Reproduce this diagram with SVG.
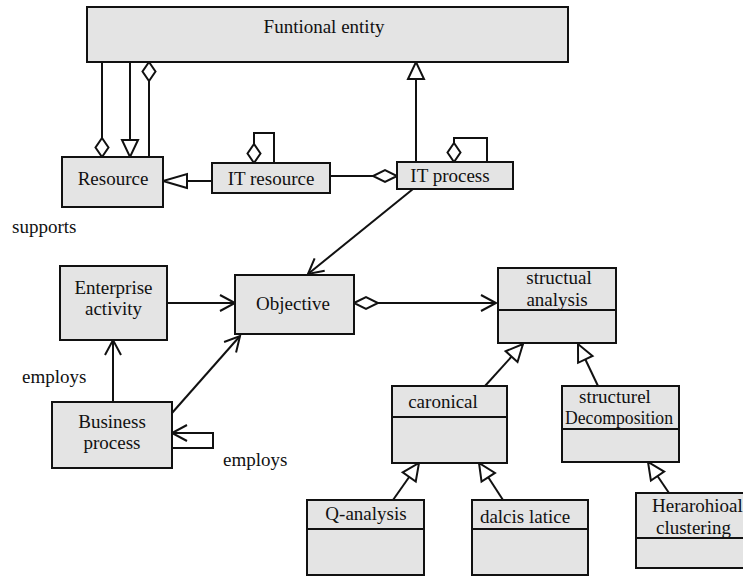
<svg xmlns="http://www.w3.org/2000/svg" width="743" height="577" viewBox="0 0 743 577">
  <style>
    .box { fill: #e4e4e4; stroke: #111; stroke-width: 2; }
    .sep { stroke: #111; stroke-width: 2; }
    .lbl { font-family: "Liberation Serif", "Times New Roman", serif; font-size: 19px; fill: #111; }
    .mid { text-anchor: middle; }
    .ln { fill: none; stroke: #111; stroke-width: 2; }
    .gen { marker-end: url(#tri); }
    .arr { marker-end: url(#arrow); }
  </style>
  <defs>
    <!-- hollow triangle: generalisation -->
    <marker id="tri" viewBox="0 0 17 16" refX="17" refY="8" markerWidth="17" markerHeight="16" markerUnits="userSpaceOnUse" orient="auto" overflow="visible">
      <path d="M0,0 L17,8 L0,16 Z" fill="#fff" stroke="#111" stroke-width="2"/>
    </marker>
    <marker id="triL" viewBox="0 0 24 14" refX="24" refY="7" markerWidth="24" markerHeight="14" markerUnits="userSpaceOnUse" orient="auto" overflow="visible">
      <path d="M0,0 L24,7 L0,14 Z" fill="#fff" stroke="#111" stroke-width="2"/>
    </marker>
    <!-- hollow diamond: aggregation (placed at line start) -->
    <marker id="dia" viewBox="0 0 19 13" refX="0" refY="6.5" markerWidth="19" markerHeight="13" markerUnits="userSpaceOnUse" orient="auto" overflow="visible">
      <path d="M0,6.5 L9.5,0 L19,6.5 L9.5,13 Z" fill="#fff" stroke="#111" stroke-width="2"/>
    </marker>
    <marker id="diaH" viewBox="0 0 24 12" refX="0" refY="6" markerWidth="24" markerHeight="12" markerUnits="userSpaceOnUse" orient="auto" overflow="visible">
      <path d="M0,6 L12,0 L24,6 L12,12 Z" fill="#fff" stroke="#111" stroke-width="2"/>
    </marker>
    <!-- open arrowhead: navigable association -->
    <marker id="arrow" viewBox="0 0 15 16" refX="15" refY="8" markerWidth="15" markerHeight="16" markerUnits="userSpaceOnUse" orient="auto" overflow="visible">
      <path d="M0,0 L15,8 L0,16" fill="none" stroke="#111" stroke-width="2"/>
    </marker>
  </defs>

  <g id="connectors">
    <path class="ln" d="M102,157 L102,62" marker-start="url(#dia)"/>
    <path class="ln gen" d="M130,62 L130,157"/>
    <path class="ln" d="M149,62 L149,157" marker-start="url(#dia)"/>
    <path class="ln" d="M212,181 L163,181" marker-end="url(#triL)"/>
    <path class="ln" d="M254,163 L254,133 L274,133 L274,163" marker-start="url(#dia)"/>
    <path class="ln" d="M454,162 L454,138 L487,138 L487,162" marker-start="url(#dia)"/>
    <path class="ln" d="M397,176 L330,176" marker-start="url(#diaH)"/>
    <path class="ln gen" d="M416,162 L416,62"/>
    <path class="ln arr" d="M413,189 L308,274"/>
    <path class="ln arr" d="M167,303 L235,303"/>
    <path class="ln arr" d="M113,402 L113,340"/>
    <path class="ln arr" d="M172,413 L240,336"/>
    <path class="ln arr" d="M172,448 L213,448 L213,433 L172,433"/>
    <path class="ln arr" d="M354,303 L496,303" marker-start="url(#diaH)"/>
    <path class="ln gen" d="M485,386 L523,344"/>
    <path class="ln gen" d="M598,386 L578,344"/>
    <path class="ln gen" d="M393,500 L419,463"/>
    <path class="ln gen" d="M503,500 L479,463"/>
    <path class="ln gen" d="M669,493 L648,462"/>
  </g>

  <g id="functional-entity">
    <rect class="box" x="87" y="7" width="481" height="55"/>
    <text class="lbl mid" x="324" y="33">Funtional entity</text>
  </g>
  <g id="resource">
    <rect class="box" x="62" y="157" width="101" height="50"/>
    <text class="lbl mid" x="113" y="185">Resource</text>
  </g>
  <g id="it-resource">
    <rect class="box" x="212" y="163" width="118" height="30"/>
    <text class="lbl mid" x="271" y="185">IT resource</text>
  </g>
  <g id="it-process">
    <rect class="box" x="397" y="162" width="116" height="27"/>
    <text class="lbl mid" x="450" y="182">IT process</text>
  </g>
  <g id="enterprise-activity">
    <rect class="box" x="60" y="266" width="107" height="74"/>
    <text class="lbl mid" x="113.5" y="294">Enterprise</text>
    <text class="lbl mid" x="113.5" y="315">activity</text>
  </g>
  <g id="objective">
    <rect class="box" x="235" y="275" width="119" height="59"/>
    <text class="lbl mid" x="293" y="310">Objective</text>
  </g>
  <g id="business-process">
    <rect class="box" x="52" y="402" width="120" height="66"/>
    <text class="lbl mid" x="112" y="428">Business</text>
    <text class="lbl mid" x="112" y="449">process</text>
  </g>
  <g id="structual-analysis">
    <rect class="box" x="498" y="268" width="118" height="75"/>
    <line class="sep" x1="498" y1="310" x2="616" y2="310"/>
    <text class="lbl mid" x="559" y="284">structual</text>
    <text class="lbl mid" x="557" y="306">analysis</text>
  </g>
  <g id="caronical">
    <rect class="box" x="392" y="386" width="115" height="77"/>
    <line class="sep" x1="392" y1="417" x2="507" y2="417"/>
    <text class="lbl mid" x="443" y="408">caronical</text>
  </g>
  <g id="structurel-decomposition">
    <rect class="box" x="562" y="386" width="117" height="76"/>
    <line class="sep" x1="562" y1="429" x2="679" y2="429"/>
    <text class="lbl mid" x="615" y="403">structurel</text>
    <text class="lbl" x="565" y="424" textLength="108" lengthAdjust="spacingAndGlyphs">Decomposition</text>
  </g>
  <g id="q-analysis">
    <rect class="box" x="307" y="500" width="117" height="75"/>
    <line class="sep" x1="307" y1="529" x2="424" y2="529"/>
    <text class="lbl mid" x="366" y="520">Q-analysis</text>
  </g>
  <g id="dalcis-latice">
    <rect class="box" x="472" y="500" width="116" height="75"/>
    <line class="sep" x1="472" y1="529" x2="588" y2="529"/>
    <text class="lbl mid" x="525" y="523">dalcis latice</text>
  </g>
  <g id="herarohioal-clustering">
    <rect class="box" x="636" y="493" width="120" height="75"/>
    <line class="sep" x1="636" y1="538" x2="756" y2="538"/>
    <text class="lbl" x="652" y="512">Herarohioal</text>
    <text class="lbl" x="656" y="534">clustering</text>
  </g>

  <g id="labels">
    <text class="lbl" x="12" y="233">supports</text>
    <text class="lbl" x="22" y="383">employs</text>
    <text class="lbl" x="223" y="466">employs</text>
  </g>
</svg>
